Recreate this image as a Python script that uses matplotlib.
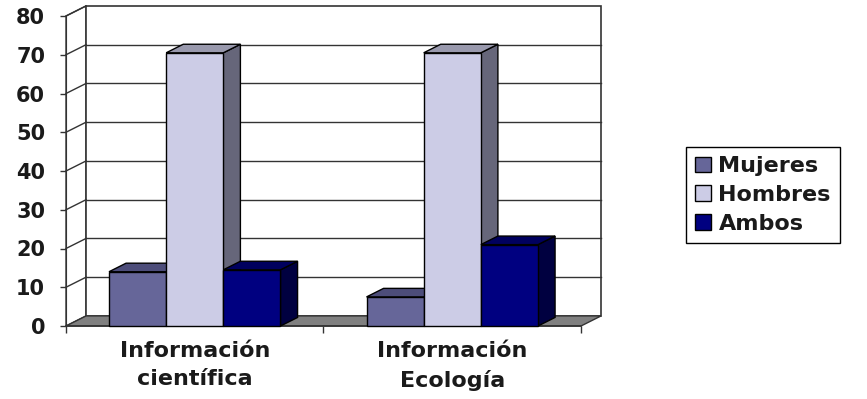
import matplotlib
matplotlib.use("Agg")
import matplotlib.pyplot as plt
from matplotlib.patches import Polygon, Patch

categories = ["Información\ncientífica", "Información\nEcología"]
series = ["Mujeres", "Hombres", "Ambos"]
mujeres = [14, 7.5]
hombres = [70.5, 70.5]
ambos = [14.5, 21]
yticks = [0, 10, 20, 30, 40, 50, 60, 70, 80]

front = ["#666699", "#CCCCE6", "#000080"]
side = ["#3E3E66", "#66667A", "#000040"]
top = ["#4D4D7A", "#9999AD", "#00005E"]

DX, DY = 0.078, 2.6      # depth of the walls, in data units
BD = 0.85                # bar depth as a share of the wall depth
W = 0.222
TXT = "#1a1a1a"

fig = plt.figure(figsize=(8.67, 3.99), dpi=100)
ax = fig.add_axes([66/867, (399-326)/399, 515/867, 310/399])
ax.set_xlim(-0.5, 1.5)
ax.set_ylim(0, 80)
for s in ["top", "right", "bottom"]:
    ax.spines[s].set_visible(False)
ax.spines["left"].set_color("#333333")
ax.patch.set_visible(False)

x0, x1 = -0.5, 1.5
# left wall
ax.add_patch(Polygon([(x0, 0), (x0, 80), (x0+DX, 80+DY), (x0+DX, DY)],
                     fc="white", ec="#333333", lw=1, clip_on=False, zorder=1))
# back wall
ax.add_patch(Polygon([(x0+DX, DY), (x1+DX, DY), (x1+DX, 80+DY), (x0+DX, 80+DY)],
                     fc="white", ec="#333333", lw=1.2, clip_on=False, zorder=1))
for v in yticks[1:-1]:
    ax.plot([x0+DX, x1+DX], [v+DY, v+DY], color="#333333", lw=1, clip_on=False, zorder=2)
for v in yticks[1:]:
    ax.plot([x0, x0+DX], [v, v+DY], color="#333333", lw=1, clip_on=False, zorder=2)
# floor
ax.add_patch(Polygon([(x0, 0), (x1, 0), (x1+DX, DY), (x0+DX, DY)],
                     fc="#808080", ec="#333333", lw=1, clip_on=False, zorder=3))
ax.plot([x0, x1], [0, 0], color="#333333", lw=1.2, clip_on=False, zorder=3)

vals = [mujeres, hombres, ambos]
for g in range(len(categories)):
    for i in range(3):
        h = vals[i][g]
        xc = g + (i - 1) * W
        a, b = xc - W/2, xc + W/2
        bx, by = DX*BD, DY*BD
        z = 4 + i
        ax.add_patch(Polygon([(b, 0), (b+bx, by), (b+bx, h+by), (b, h)],
                             fc=side[i], ec="black", lw=1, clip_on=False, zorder=z))
        ax.add_patch(Polygon([(a, h), (b, h), (b+bx, h+by), (a+bx, h+by)],
                             fc=top[i], ec="black", lw=1, clip_on=False, zorder=z))
        ax.bar(xc, h, width=W, color=front[i], edgecolor="black", lw=1,
               clip_on=False, zorder=z)

ax.set_yticks(yticks)
ax.set_yticklabels([str(v) for v in yticks], fontsize=15, fontweight="bold", color=TXT)
ax.tick_params(axis="y", direction="out", length=4, width=1, pad=11, color="#333333")
ax.set_xticks([0, 1])
ax.set_xticklabels(categories, fontsize=16, fontweight="bold", color=TXT, linespacing=1.5)
ax.set_xticks([-0.5, 0.5, 1.5], minor=True)
ax.tick_params(axis="x", which="major", length=0, pad=11)
ax.tick_params(axis="x", which="minor", direction="out", length=5, width=1, color="#333333")

handles = [Patch(fc=front[i], ec="black", lw=1, label=series[i]) for i in range(3)]
leg = fig.legend(handles=handles, loc="center", bbox_to_anchor=(763/867, (399-195)/399),
                 fancybox=False, edgecolor="black", framealpha=1,
                 handlelength=0.7, handleheight=0.7, handletextpad=0.35,
                 labelspacing=0.4, borderpad=0.4,
                 prop={"size": 16, "weight": "bold"})
leg.get_frame().set_linewidth(1)
for t in leg.get_texts():
    t.set_color(TXT)

fig.savefig("out.png", dpi=100)
